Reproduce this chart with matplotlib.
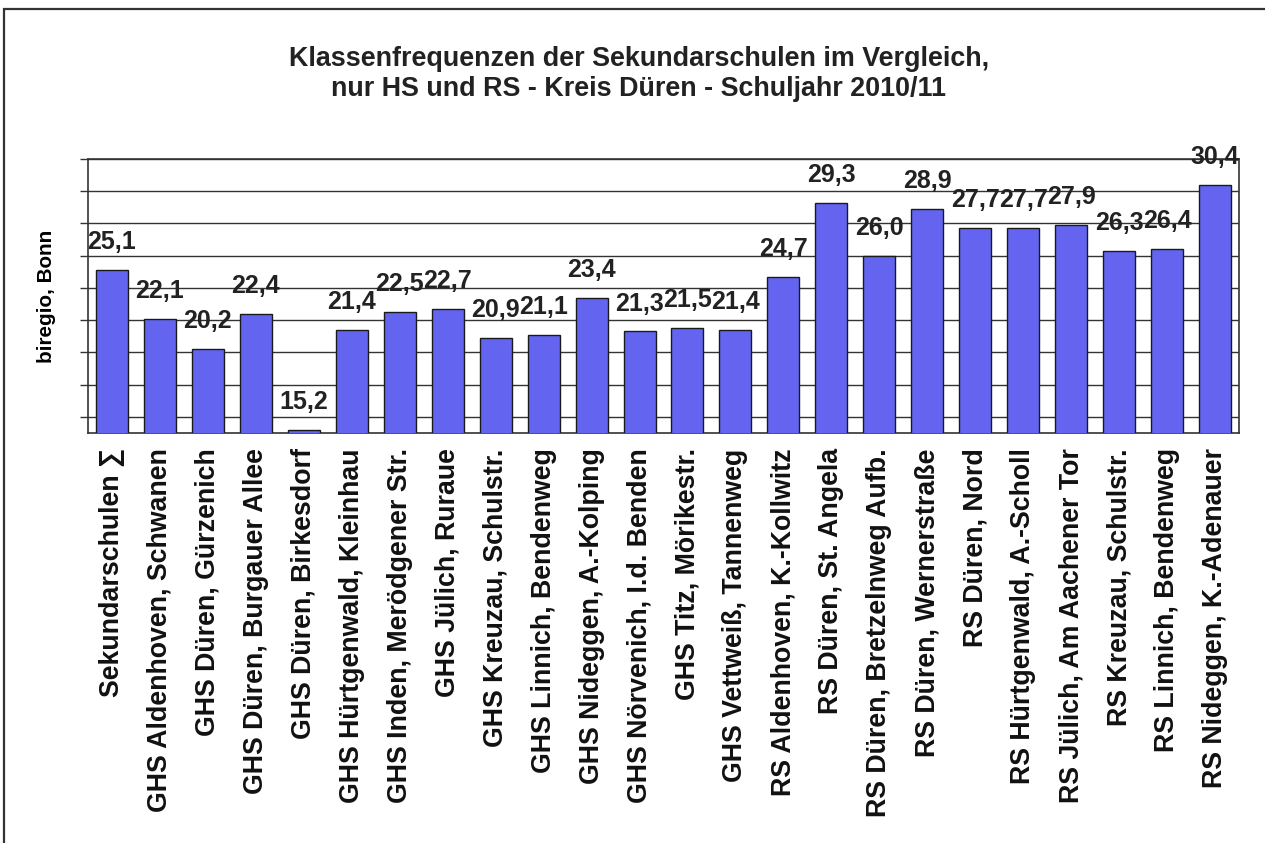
import matplotlib.pyplot as plt
from matplotlib.patches import Rectangle

plt.rcParams['font.family'] = ['Liberation Sans', 'DejaVu Sans']
plt.rcParams['font.weight'] = 'bold'

schools = [
    'Sekundarschulen \u2211',
    'GHS Aldenhoven, Schwanen',
    'GHS Düren, Gürzenich',
    'GHS Düren, Burgauer Allee',
    'GHS Düren, Birkesdorf',
    'GHS Hürtgenwald, Kleinhau',
    'GHS Inden, Merödgener Str.',
    'GHS Jülich, Ruraue',
    'GHS Kreuzau, Schulstr.',
    'GHS Linnich, Bendenweg',
    'GHS Nideggen, A.-Kolping',
    'GHS Nörvenich, I.d. Benden',
    'GHS Titz, Mörikestr.',
    'GHS Vettweiß, Tannenweg',
    'RS Aldenhoven, K.-Kollwitz',
    'RS Düren, St. Angela',
    'RS Düren, Bretzelnweg Aufb.',
    'RS Düren, Wernerstraße',
    'RS Düren, Nord',
    'RS Hürtgenwald, A.-Scholl',
    'RS Jülich, Am Aachener Tor',
    'RS Kreuzau, Schulstr.',
    'RS Linnich, Bendenweg',
    'RS Nideggen, K.-Adenauer',
]
freq = [25.1, 22.1, 20.2, 22.4, 15.2, 21.4, 22.5, 22.7, 20.9, 21.1, 23.4, 21.3,
        21.5, 21.4, 24.7, 29.3, 26.0, 28.9, 27.7, 27.7, 27.9, 26.3, 26.4, 30.4]

fig = plt.figure(figsize=(12.65, 8.43), dpi=100)
ax = fig.add_axes([88 / 1265, 1 - 433 / 843, (1239 - 88) / 1265, (433 - 159) / 843])

x = list(range(len(schools)))
ax.bar(x, freq, width=0.667, color='#6365F0', edgecolor='#1a1a1a', linewidth=1, zorder=3)

for xi, v in zip(x, freq):
    ax.annotate(f'{v:.1f}'.replace('.', ','), (xi, v), xytext=(0, 15),
                textcoords='offset points', ha='center', va='baseline',
                fontsize=18, fontweight='bold', color='#222222', zorder=4)

ax.set_xlim(-0.5, len(schools) - 0.5)
ax.set_ylim(15, 32)
ax.set_yticks(range(16, 33, 2))
ax.set_yticklabels([])
ax.tick_params(axis='y', length=6, width=1, color='#333333', direction='out')
ax.tick_params(axis='x', length=0, pad=11)
ax.set_xticks(x)
ax.set_xticklabels(schools, rotation=90, fontsize=19.3, fontweight='bold', color='#111111')
ax.grid(axis='y', color='#333333', linewidth=1, zorder=0)
for s in ax.spines.values():
    s.set_color('#333333')
    s.set_linewidth(1.2)

ax.set_ylabel('biregio, Bonn', fontsize=14.9, fontweight='bold')
ax.yaxis.set_label_coords(-0.028, 0.5)

fig.text(0.505, 1 - 66 / 843, 'Klassenfrequenzen der Sekundarschulen im Vergleich,',
         ha='center', va='baseline', fontsize=19.4, fontweight='bold', color='#222222')
fig.text(0.505, 1 - 96 / 843, 'nur HS und RS - Kreis Düren - Schuljahr 2010/11',
         ha='center', va='baseline', fontsize=19.4, fontweight='bold', color='#222222')

# outer frame (only left and top edges visible)
fig.patches.append(Rectangle((3.5 / 1265, -0.5), 1.5, 0.5 + 1 - 8.5 / 843,
                             transform=fig.transFigure, fill=False,
                             edgecolor='#333333', linewidth=1.6))

fig.savefig('out.png', dpi=100)
